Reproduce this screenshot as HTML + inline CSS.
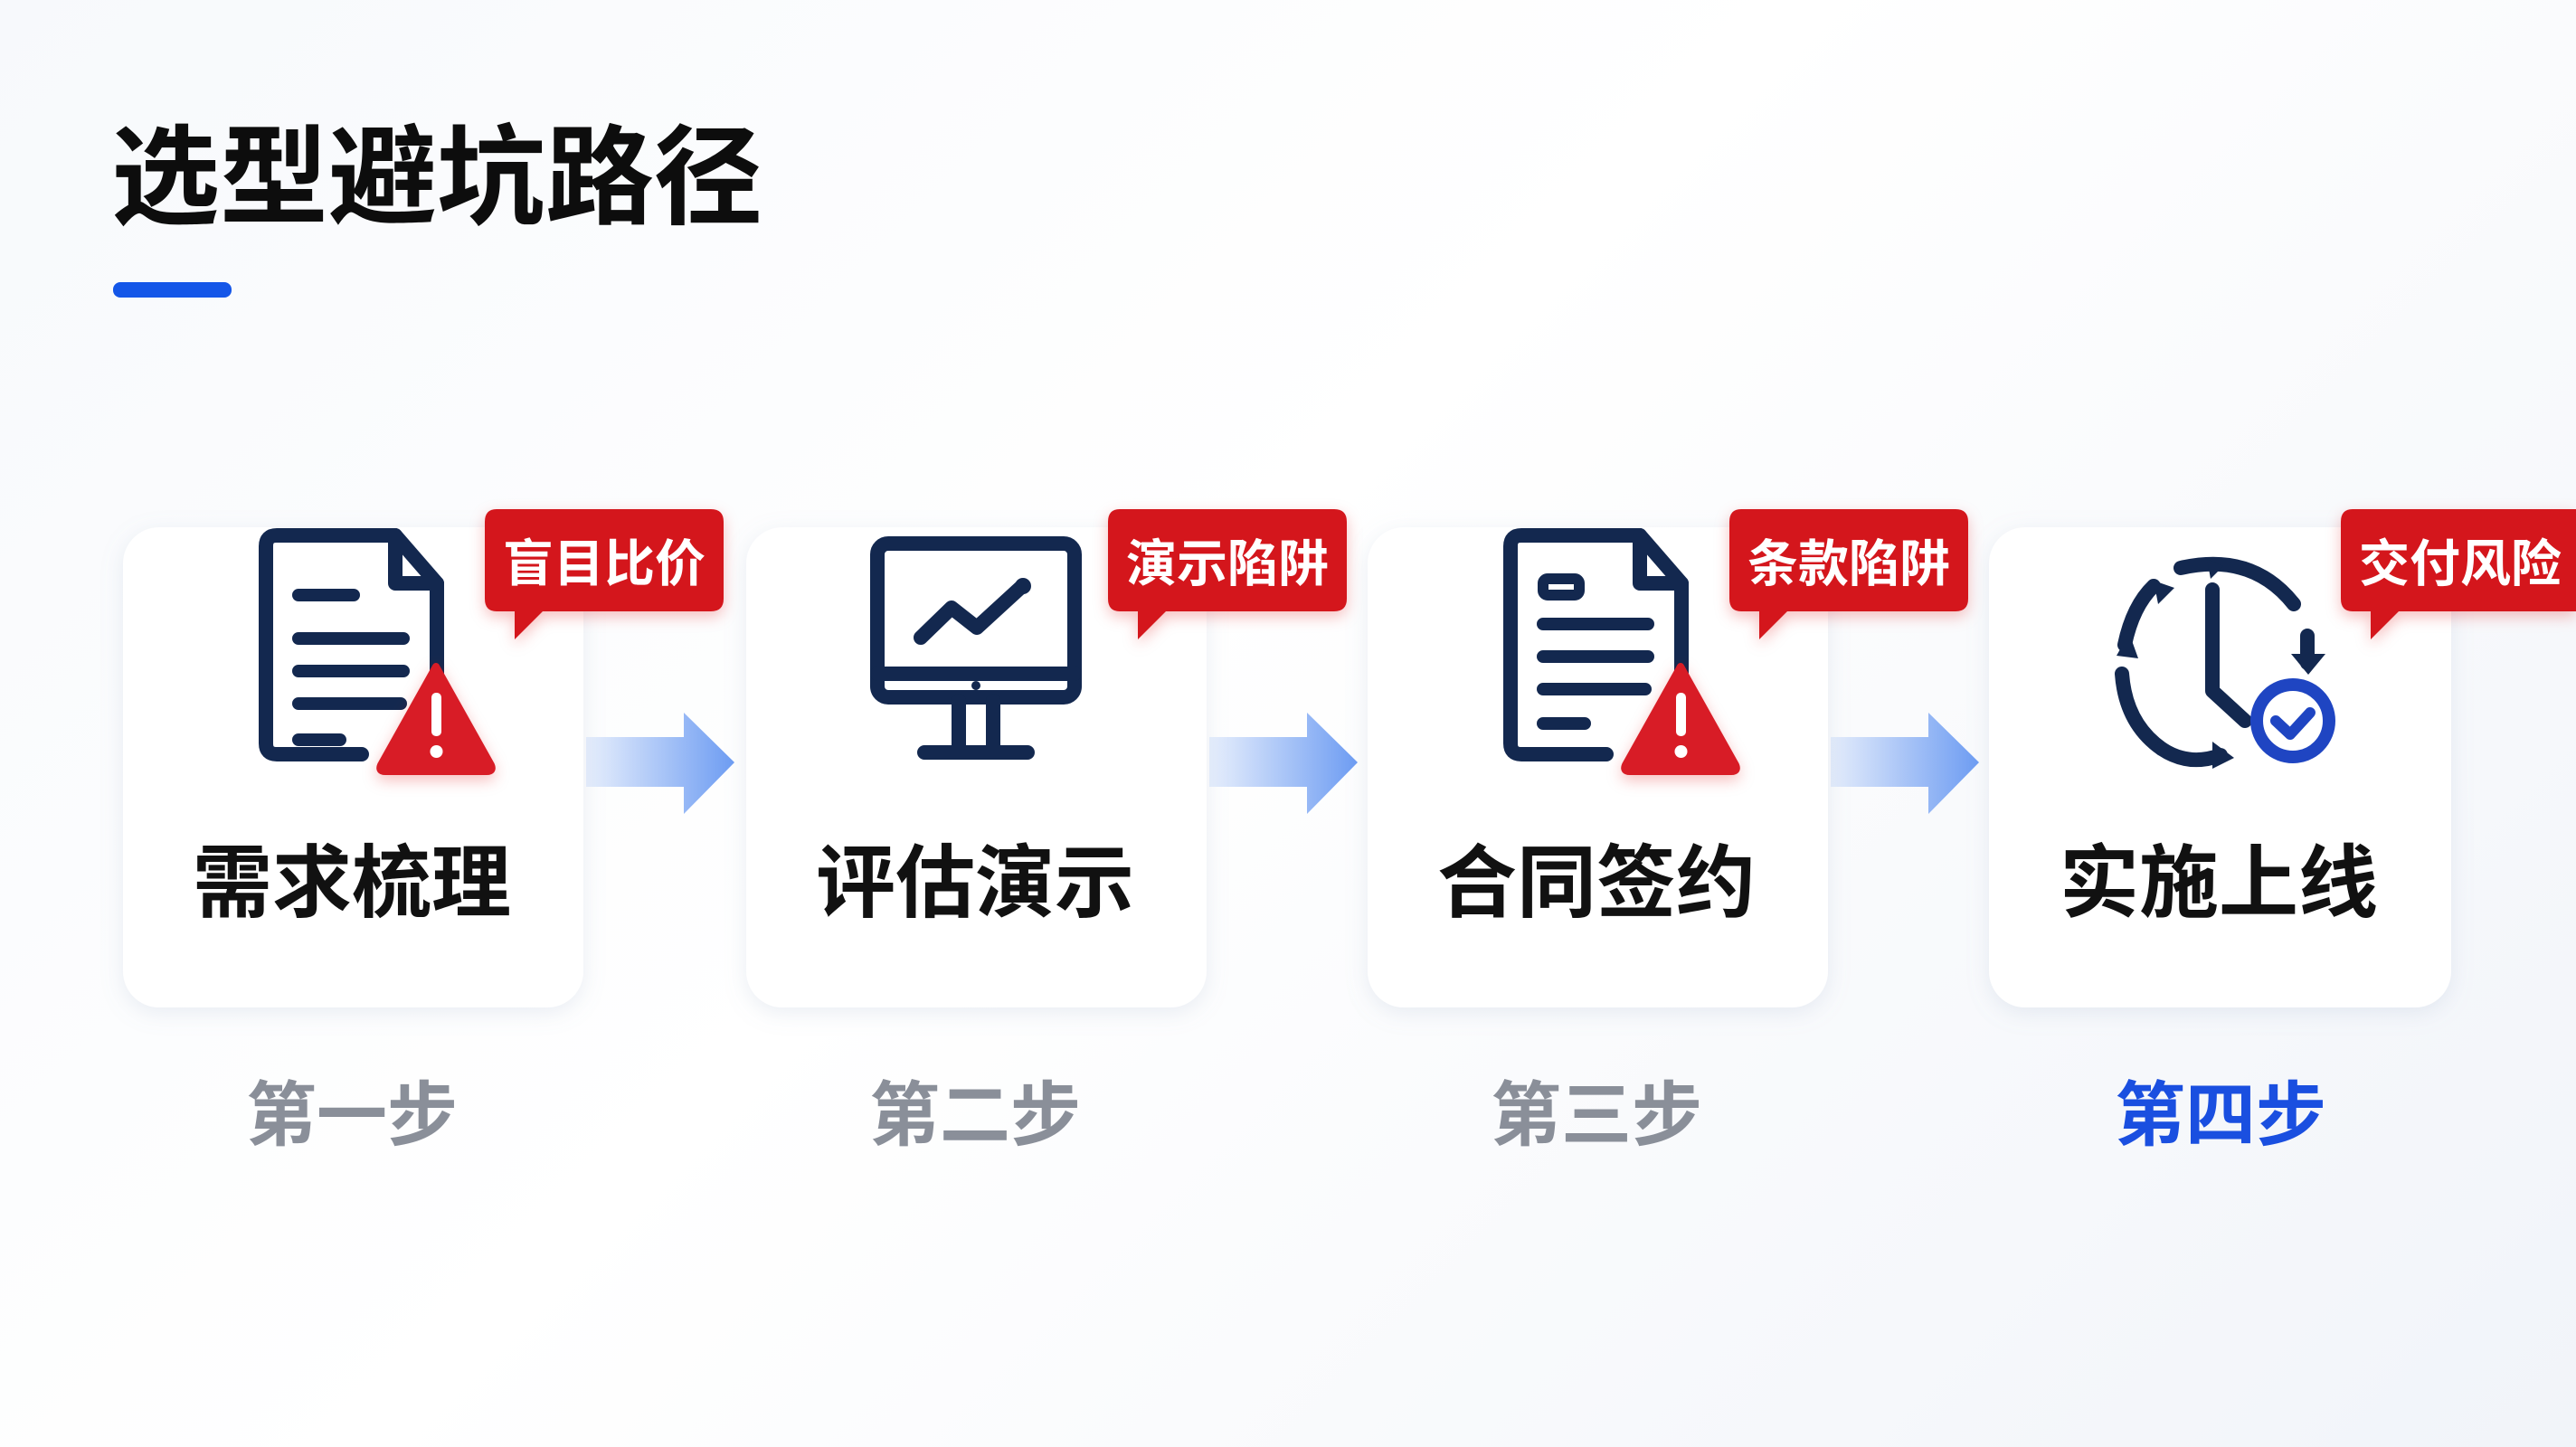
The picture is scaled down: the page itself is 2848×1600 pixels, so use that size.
<!DOCTYPE html>
<html><head><meta charset="utf-8"><style>
html,body{margin:0;padding:0}
body{width:2848px;height:1600px;overflow:hidden;background:linear-gradient(135deg,#f7f9fc 0%,#ffffff 45%,#f1f4f9 100%);font-family:"Liberation Sans","Noto Sans CJK SC",sans-serif;position:relative}
svg{position:absolute;left:0;top:0}
</style></head><body>
<svg width="2848" height="1600" viewBox="0 0 2848 1600" xmlns="http://www.w3.org/2000/svg">
<defs>
<linearGradient id="ar" x1="0" x2="1"><stop offset="0" stop-color="#6d9cf2" stop-opacity="0.15"/><stop offset="1" stop-color="#6d9cf2"/></linearGradient>
<filter id="sh" x="-10%" y="-10%" width="120%" height="120%"><feDropShadow dx="0" dy="6" stdDeviation="12" flood-color="#8aa0c0" flood-opacity="0.18"/></filter>
<filter id="bs" x="-20%" y="-20%" width="140%" height="160%"><feDropShadow dx="0" dy="6" stdDeviation="8" flood-color="#d00" flood-opacity="0.25"/></filter>
</defs>
<text x="123" y="238" font-size="120" font-weight="bold" fill="#0d0d0d" font-family="Liberation Sans,Noto Sans CJK SC,sans-serif">选型避坑路径</text>
<rect x="125" y="312" width="131" height="17" rx="8" fill="#1456e8"/>

<g filter="url(#sh)" fill="#fff">
<rect x="136" y="583" width="509" height="531" rx="40"/>
<rect x="825" y="583" width="509" height="531" rx="40"/>
<rect x="1512" y="583" width="509" height="531" rx="40"/>
<rect x="2199" y="583" width="511" height="531" rx="40"/>
</g>

<g fill="url(#ar)">
<path d="M648 815H756V788L812 843L756 900V870H648Z"/>
<path d="M1337 815H1445V788L1501 843L1445 900V870H1337Z"/>
<path d="M2024 815H2132V788L2188 843L2132 900V870H2024Z"/>
</g>

<g fill="none" stroke="#13284f" stroke-width="16" stroke-linecap="round" stroke-linejoin="round">
<path d="M400 834H306Q294 834 294 822V604Q294 592 306 592H437L483 645V752"/>
<path d="M437 592V645H483"/>
<path d="M330 658H391M330 706H446M330 742H446M330 778H443M330 818H376" stroke-width="14"/>
</g>
<g filter="url(#bs)"><path d="M482 737L543 846Q546 853 538 853H426Q418 853 421 846Z" fill="#d81f26" stroke="#d81f26" stroke-width="8" stroke-linejoin="round"/></g>
<rect x="477" y="766" width="11" height="48" rx="5" fill="#fff"/><circle cx="482.5" cy="831" r="7" fill="#fff"/>

<g transform="translate(1376,0)">
<g fill="none" stroke="#13284f" stroke-width="16" stroke-linecap="round" stroke-linejoin="round">
<path d="M400 834H306Q294 834 294 822V604Q294 592 306 592H437L483 645V752"/>
<path d="M437 592V645H483"/>
<rect x="330" y="640" width="40" height="18" rx="5" stroke-width="12"/>
<path d="M330 690H446M330 726H446M330 762H443M330 800H376" stroke-width="14"/>
</g>
<g filter="url(#bs)"><path d="M482 737L543 846Q546 853 538 853H426Q418 853 421 846Z" fill="#d81f26" stroke="#d81f26" stroke-width="8" stroke-linejoin="round"/></g>
<rect x="477" y="766" width="11" height="48" rx="5" fill="#fff"/><circle cx="482.5" cy="831" r="7" fill="#fff"/>
</g>

<g fill="none" stroke="#13284f" stroke-width="16" stroke-linecap="round" stroke-linejoin="round">
<rect x="970" y="601" width="218" height="170" rx="12"/>
<path d="M970 745H1188"/>
<path d="M1018 705L1052 672L1080 694L1128 650"/>
<path d="M1060 775V830M1098 775V830M1022 832H1136"/>
</g>
<circle cx="1131" cy="648" r="9" fill="#13284f"/>
<circle cx="1079" cy="758" r="5" fill="#13284f"/>

<g fill="none" stroke="#13284f" stroke-width="16" stroke-linecap="round" stroke-linejoin="round">
<path d="M2411 628Q2490 610 2536 668"/>
<path d="M2349 713Q2358 670 2381 648"/>
<path d="M2346 745Q2350 800 2390 828"/>
<path d="M2390 828Q2420 848 2455 835"/>
<path d="M2446 652V764L2482 797"/>
<path d="M2551 703V733"/>
</g>
<g fill="#13284f">
<path d="M2533 723L2571 723L2552 746Z"/>
<path d="M2446 820L2470 838L2446 850Z"/>
<path d="M2340 725L2354 700L2364 728Z"/>
<path d="M2381 642L2404 650L2386 668Z"/>
<path d="M2440 618L2458 626L2444 640Z"/>
</g>
<circle cx="2535" cy="797" r="40" fill="#fff" stroke="#1f45c2" stroke-width="14"/>
<path d="M2516 797L2532 812L2554 788" fill="none" stroke="#1f45c2" stroke-width="12" stroke-linecap="round" stroke-linejoin="round"/>

<g filter="url(#bs)" fill="#d4161c">
<path d="M549 563H786Q800 563 800 577V662Q800 676 786 676H600L569 707V676H549Q536 676 536 662V577Q536 563 549 563Z"/>
<path d="M1238 563H1475Q1489 563 1489 577V662Q1489 676 1475 676H1289L1258 707V676H1238Q1225 676 1225 662V577Q1225 563 1238 563Z"/>
<path d="M1925 563H2162Q2176 563 2176 577V662Q2176 676 2162 676H1976L1945 707V676H1925Q1912 676 1912 662V577Q1912 563 1925 563Z"/>
<path d="M2601 563H2848V676H2652L2621 707V676H2601Q2588 676 2588 662V577Q2588 563 2601 563Z"/>
</g>
<g font-size="56" font-weight="bold" fill="#fff" text-anchor="middle" font-family="Liberation Sans,Noto Sans CJK SC,sans-serif">
<text x="668" y="643">盲目比价</text>
<text x="1357" y="643">演示陷阱</text>
<text x="2044" y="643">条款陷阱</text>
<text x="2720" y="643">交付风险</text>
</g>

<g font-size="88" font-weight="bold" fill="#111" text-anchor="middle" font-family="Liberation Sans,Noto Sans CJK SC,sans-serif">
<text x="389" y="1007">需求梳理</text>
<text x="1078" y="1007">评估演示</text>
<text x="1765" y="1007">合同签约</text>
<text x="2453" y="1007">实施上线</text>
</g>
<g font-size="78" font-weight="bold" text-anchor="middle" font-family="Liberation Sans,Noto Sans CJK SC,sans-serif">
<text x="389" y="1260" fill="#8a8f99">第一步</text>
<text x="1078" y="1260" fill="#8a8f99">第二步</text>
<text x="1765" y="1260" fill="#8a8f99">第三步</text>
<text x="2455" y="1260" fill="#1a4fe0">第四步</text>
</g>
</svg>
</body></html>
